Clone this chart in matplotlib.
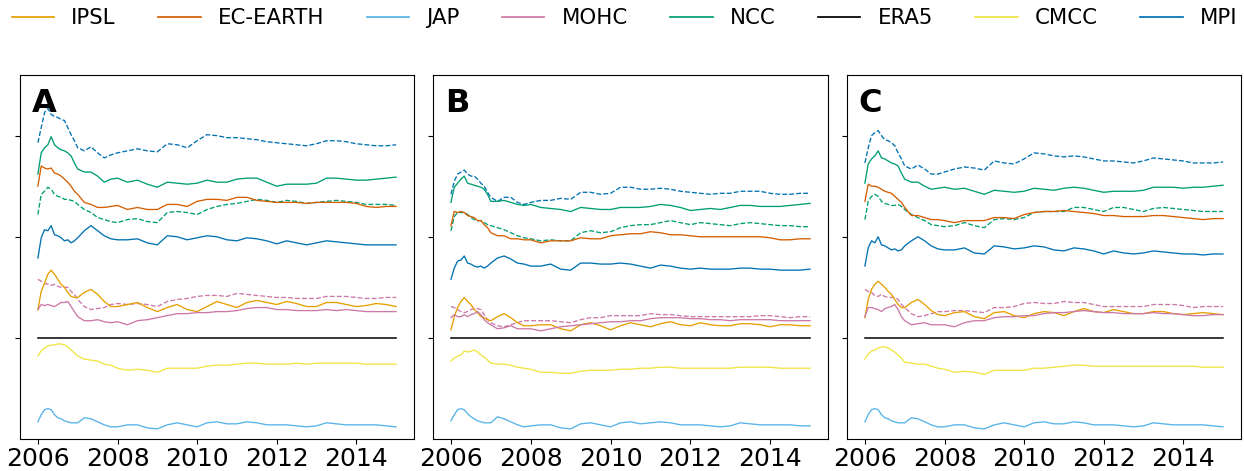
import matplotlib
matplotlib.use("Agg")
import matplotlib.pyplot as plt
from matplotlib.lines import Line2D

years = [2006.0, 2006.083, 2006.167, 2006.25, 2006.333, 2006.417, 2006.5, 2006.583,
         2006.667, 2006.75, 2006.833, 2006.917, 2007.0, 2007.167, 2007.333, 2007.5,
         2007.667, 2007.833, 2008.0, 2008.25, 2008.5, 2008.75, 2009.0, 2009.25,
         2009.5, 2009.75, 2010.0, 2010.25, 2010.5, 2010.75, 2011.0, 2011.25, 2011.5,
         2011.75, 2012.0, 2012.25, 2012.5, 2012.75, 2013.0, 2013.25, 2013.5, 2013.75,
         2014.0, 2014.25, 2014.5, 2014.75, 2015.0]

models = ["IPSL", "EC-EARTH", "JAP", "MOHC", "NCC", "ERA5", "CMCC", "MPI"]
colors = ["#E69F00", "#D55E00", "#56B4E9", "#CC79A7", "#009E73", "#000000", "#F0E442", "#0072B2"]
panel_labels = ["A", "B", "C"]
xtick_years = [2006, 2008, 2010, 2012, 2014]
era5_level = 0.0

# ---------------- Panel A ----------------
A_MPI_d = [1.93, 2.08, 2.23, 2.27, 2.21, 2.19, 2.18, 2.16, 2.15, 2.08, 2.01, 1.95, 1.88, 1.85, 1.89, 1.83, 1.78, 1.81, 1.83, 1.85, 1.87, 1.85, 1.84, 1.92, 1.91, 1.88, 1.95, 2.01, 2.00, 1.98, 1.98, 1.97, 1.96, 1.94, 1.93, 1.92, 1.91, 1.90, 1.92, 1.95, 1.95, 1.94, 1.92, 1.91, 1.90, 1.90, 1.91]
A_NCC = [1.62, 1.83, 1.88, 1.91, 1.99, 1.91, 1.88, 1.86, 1.85, 1.83, 1.80, 1.73, 1.67, 1.64, 1.64, 1.60, 1.54, 1.57, 1.58, 1.54, 1.56, 1.52, 1.49, 1.54, 1.53, 1.52, 1.53, 1.56, 1.54, 1.54, 1.57, 1.58, 1.58, 1.54, 1.50, 1.52, 1.52, 1.52, 1.53, 1.58, 1.58, 1.57, 1.56, 1.56, 1.57, 1.58, 1.59]
A_EC = [1.50, 1.70, 1.68, 1.67, 1.68, 1.63, 1.62, 1.60, 1.57, 1.54, 1.50, 1.45, 1.42, 1.34, 1.32, 1.29, 1.29, 1.30, 1.31, 1.27, 1.29, 1.27, 1.27, 1.32, 1.32, 1.30, 1.35, 1.37, 1.37, 1.36, 1.39, 1.39, 1.36, 1.35, 1.34, 1.34, 1.34, 1.33, 1.34, 1.34, 1.34, 1.34, 1.33, 1.30, 1.29, 1.30, 1.30]
A_NCC_d = [1.22, 1.42, 1.45, 1.49, 1.47, 1.42, 1.40, 1.39, 1.37, 1.37, 1.36, 1.35, 1.32, 1.27, 1.24, 1.19, 1.17, 1.15, 1.14, 1.17, 1.18, 1.15, 1.14, 1.24, 1.25, 1.24, 1.22, 1.27, 1.30, 1.32, 1.33, 1.35, 1.37, 1.36, 1.34, 1.36, 1.35, 1.33, 1.34, 1.35, 1.36, 1.35, 1.34, 1.32, 1.32, 1.32, 1.31]
A_MPI = [0.79, 0.99, 1.07, 1.06, 1.11, 1.02, 1.01, 0.99, 0.96, 0.97, 0.94, 0.96, 0.99, 1.06, 1.11, 1.06, 1.01, 0.98, 0.97, 0.97, 0.98, 0.94, 0.92, 1.01, 1.00, 0.97, 0.99, 1.01, 1.00, 0.97, 0.96, 0.99, 0.98, 0.96, 0.93, 0.96, 0.94, 0.92, 0.94, 0.96, 0.95, 0.94, 0.93, 0.92, 0.92, 0.92, 0.92]
A_IPSL = [0.28, 0.46, 0.54, 0.63, 0.67, 0.63, 0.58, 0.53, 0.50, 0.45, 0.41, 0.40, 0.40, 0.45, 0.48, 0.43, 0.36, 0.31, 0.31, 0.33, 0.35, 0.30, 0.26, 0.30, 0.33, 0.28, 0.26, 0.31, 0.36, 0.33, 0.30, 0.35, 0.37, 0.35, 0.33, 0.36, 0.34, 0.31, 0.31, 0.35, 0.35, 0.33, 0.31, 0.32, 0.34, 0.33, 0.31]
A_MOHC_d = [0.58, 0.56, 0.54, 0.53, 0.52, 0.53, 0.51, 0.50, 0.50, 0.50, 0.46, 0.43, 0.38, 0.31, 0.28, 0.29, 0.30, 0.33, 0.34, 0.33, 0.34, 0.33, 0.31, 0.36, 0.38, 0.39, 0.41, 0.42, 0.42, 0.41, 0.44, 0.43, 0.42, 0.41, 0.40, 0.40, 0.39, 0.39, 0.39, 0.41, 0.41, 0.41, 0.40, 0.39, 0.39, 0.40, 0.40]
A_MOHC = [0.28, 0.33, 0.32, 0.33, 0.32, 0.31, 0.33, 0.35, 0.35, 0.36, 0.31, 0.26, 0.21, 0.17, 0.17, 0.18, 0.16, 0.15, 0.16, 0.13, 0.17, 0.18, 0.20, 0.22, 0.24, 0.24, 0.25, 0.25, 0.26, 0.26, 0.27, 0.29, 0.30, 0.30, 0.28, 0.28, 0.27, 0.27, 0.27, 0.28, 0.27, 0.28, 0.27, 0.26, 0.26, 0.26, 0.26]
A_CMCC = [-0.18, -0.13, -0.10, -0.08, -0.07, -0.07, -0.06, -0.06, -0.07, -0.09, -0.12, -0.15, -0.18, -0.21, -0.22, -0.23, -0.26, -0.27, -0.30, -0.32, -0.31, -0.32, -0.34, -0.30, -0.30, -0.30, -0.30, -0.28, -0.27, -0.27, -0.26, -0.25, -0.25, -0.26, -0.26, -0.26, -0.25, -0.26, -0.25, -0.25, -0.25, -0.25, -0.25, -0.26, -0.26, -0.26, -0.26]
A_JAP = [-0.83, -0.76, -0.71, -0.70, -0.71, -0.76, -0.79, -0.80, -0.82, -0.83, -0.84, -0.84, -0.84, -0.79, -0.80, -0.83, -0.86, -0.88, -0.88, -0.86, -0.86, -0.89, -0.90, -0.86, -0.84, -0.86, -0.88, -0.84, -0.83, -0.85, -0.85, -0.83, -0.84, -0.86, -0.86, -0.86, -0.87, -0.88, -0.87, -0.84, -0.85, -0.86, -0.86, -0.86, -0.86, -0.87, -0.88]

# ---------------- Panel B ----------------
B_MPI_d = [1.42, 1.55, 1.62, 1.64, 1.66, 1.62, 1.60, 1.60, 1.57, 1.53, 1.50, 1.44, 1.39, 1.35, 1.39, 1.39, 1.34, 1.32, 1.34, 1.36, 1.36, 1.38, 1.37, 1.44, 1.44, 1.42, 1.43, 1.49, 1.49, 1.47, 1.47, 1.48, 1.47, 1.45, 1.44, 1.43, 1.42, 1.43, 1.43, 1.45, 1.45, 1.45, 1.43, 1.42, 1.42, 1.43, 1.43]
B_NCC = [1.34, 1.49, 1.53, 1.57, 1.60, 1.53, 1.52, 1.51, 1.50, 1.49, 1.47, 1.42, 1.35, 1.35, 1.36, 1.34, 1.32, 1.31, 1.32, 1.29, 1.28, 1.27, 1.25, 1.29, 1.28, 1.27, 1.27, 1.29, 1.29, 1.29, 1.30, 1.32, 1.31, 1.29, 1.26, 1.27, 1.28, 1.27, 1.29, 1.31, 1.31, 1.30, 1.30, 1.30, 1.31, 1.32, 1.33]
B_EC = [1.11, 1.25, 1.24, 1.25, 1.24, 1.21, 1.20, 1.19, 1.16, 1.16, 1.12, 1.09, 1.04, 1.01, 1.01, 0.98, 0.98, 0.97, 0.97, 0.94, 0.96, 0.96, 0.96, 0.99, 0.98, 0.98, 1.01, 1.02, 1.03, 1.03, 1.05, 1.04, 1.02, 1.02, 1.01, 1.00, 1.00, 1.00, 1.00, 1.00, 1.00, 1.00, 0.99, 0.97, 0.97, 0.98, 0.98]
B_NCC_d = [1.06, 1.20, 1.24, 1.24, 1.24, 1.22, 1.19, 1.17, 1.16, 1.16, 1.14, 1.12, 1.11, 1.09, 1.07, 1.04, 1.01, 0.99, 0.98, 0.96, 0.97, 0.96, 0.96, 1.04, 1.06, 1.04, 1.05, 1.09, 1.11, 1.12, 1.12, 1.14, 1.16, 1.14, 1.12, 1.14, 1.13, 1.12, 1.11, 1.13, 1.14, 1.13, 1.12, 1.11, 1.11, 1.10, 1.10]
B_MPI = [0.58, 0.69, 0.76, 0.77, 0.81, 0.74, 0.73, 0.71, 0.70, 0.71, 0.69, 0.71, 0.74, 0.79, 0.81, 0.78, 0.74, 0.73, 0.71, 0.71, 0.73, 0.68, 0.67, 0.74, 0.74, 0.73, 0.73, 0.74, 0.73, 0.71, 0.69, 0.72, 0.71, 0.69, 0.68, 0.69, 0.68, 0.68, 0.68, 0.69, 0.69, 0.68, 0.68, 0.67, 0.67, 0.67, 0.68]
B_IPSL = [0.08, 0.21, 0.30, 0.36, 0.40, 0.36, 0.33, 0.28, 0.25, 0.21, 0.20, 0.18, 0.17, 0.21, 0.24, 0.20, 0.15, 0.12, 0.12, 0.13, 0.13, 0.09, 0.07, 0.13, 0.15, 0.12, 0.08, 0.12, 0.15, 0.13, 0.11, 0.14, 0.16, 0.13, 0.12, 0.15, 0.13, 0.12, 0.12, 0.14, 0.14, 0.13, 0.11, 0.13, 0.13, 0.12, 0.12]
B_MOHC_d = [0.31, 0.30, 0.28, 0.26, 0.25, 0.26, 0.28, 0.29, 0.29, 0.28, 0.23, 0.18, 0.15, 0.12, 0.11, 0.13, 0.15, 0.17, 0.17, 0.17, 0.17, 0.16, 0.15, 0.18, 0.20, 0.20, 0.22, 0.22, 0.22, 0.22, 0.24, 0.23, 0.23, 0.22, 0.21, 0.21, 0.21, 0.21, 0.21, 0.21, 0.21, 0.22, 0.22, 0.21, 0.20, 0.21, 0.21]
B_MOHC = [0.20, 0.23, 0.21, 0.21, 0.23, 0.21, 0.23, 0.24, 0.26, 0.23, 0.18, 0.15, 0.13, 0.09, 0.10, 0.12, 0.09, 0.09, 0.09, 0.07, 0.09, 0.11, 0.12, 0.13, 0.14, 0.15, 0.16, 0.16, 0.17, 0.17, 0.19, 0.20, 0.20, 0.20, 0.19, 0.19, 0.18, 0.18, 0.17, 0.18, 0.18, 0.18, 0.18, 0.17, 0.17, 0.17, 0.17]
B_CMCC = [-0.23, -0.20, -0.18, -0.17, -0.13, -0.14, -0.13, -0.12, -0.14, -0.17, -0.19, -0.22, -0.25, -0.26, -0.26, -0.27, -0.29, -0.30, -0.31, -0.34, -0.34, -0.35, -0.35, -0.33, -0.32, -0.32, -0.32, -0.31, -0.31, -0.30, -0.30, -0.29, -0.29, -0.30, -0.30, -0.30, -0.30, -0.30, -0.30, -0.29, -0.29, -0.29, -0.29, -0.30, -0.30, -0.30, -0.30]
B_JAP = [-0.82, -0.76, -0.71, -0.70, -0.71, -0.75, -0.78, -0.80, -0.82, -0.83, -0.84, -0.84, -0.84, -0.78, -0.80, -0.83, -0.86, -0.88, -0.87, -0.86, -0.86, -0.89, -0.90, -0.85, -0.84, -0.86, -0.88, -0.84, -0.83, -0.85, -0.84, -0.83, -0.84, -0.86, -0.86, -0.86, -0.87, -0.88, -0.87, -0.84, -0.85, -0.86, -0.86, -0.86, -0.86, -0.87, -0.87]

# ---------------- Panel C ----------------
C_MPI_d = [1.73, 1.88, 2.00, 2.03, 2.05, 2.00, 1.96, 1.95, 1.93, 1.90, 1.83, 1.77, 1.70, 1.67, 1.71, 1.67, 1.62, 1.62, 1.64, 1.67, 1.69, 1.68, 1.66, 1.75, 1.73, 1.72, 1.77, 1.83, 1.82, 1.80, 1.79, 1.80, 1.79, 1.77, 1.75, 1.75, 1.74, 1.73, 1.75, 1.78, 1.77, 1.76, 1.75, 1.73, 1.73, 1.73, 1.74]
C_NCC = [1.53, 1.72, 1.77, 1.80, 1.85, 1.78, 1.77, 1.75, 1.73, 1.72, 1.70, 1.63, 1.57, 1.54, 1.54, 1.50, 1.47, 1.48, 1.49, 1.47, 1.48, 1.45, 1.42, 1.46, 1.45, 1.44, 1.45, 1.48, 1.47, 1.46, 1.48, 1.49, 1.48, 1.46, 1.44, 1.45, 1.45, 1.45, 1.46, 1.49, 1.49, 1.49, 1.48, 1.49, 1.49, 1.50, 1.51]
C_EC = [1.35, 1.52, 1.50, 1.50, 1.49, 1.47, 1.45, 1.44, 1.43, 1.40, 1.37, 1.34, 1.29, 1.21, 1.21, 1.19, 1.17, 1.17, 1.16, 1.14, 1.16, 1.16, 1.16, 1.19, 1.19, 1.18, 1.22, 1.24, 1.25, 1.25, 1.26, 1.25, 1.24, 1.23, 1.21, 1.21, 1.20, 1.20, 1.20, 1.21, 1.21, 1.20, 1.19, 1.18, 1.17, 1.18, 1.18]
C_NCC_d = [1.17, 1.35, 1.40, 1.42, 1.40, 1.35, 1.33, 1.32, 1.31, 1.31, 1.32, 1.30, 1.27, 1.22, 1.19, 1.16, 1.12, 1.11, 1.10, 1.11, 1.14, 1.11, 1.09, 1.17, 1.18, 1.17, 1.19, 1.24, 1.25, 1.25, 1.25, 1.29, 1.29, 1.27, 1.25, 1.29, 1.29, 1.27, 1.25, 1.28, 1.29, 1.28, 1.27, 1.26, 1.25, 1.25, 1.25]
C_MPI = [0.71, 0.89, 0.96, 0.94, 1.00, 0.92, 0.91, 0.89, 0.87, 0.88, 0.86, 0.87, 0.91, 0.96, 1.00, 0.96, 0.91, 0.88, 0.87, 0.87, 0.89, 0.84, 0.83, 0.91, 0.90, 0.88, 0.89, 0.91, 0.90, 0.87, 0.86, 0.89, 0.88, 0.86, 0.83, 0.86, 0.84, 0.83, 0.84, 0.86, 0.85, 0.84, 0.83, 0.83, 0.82, 0.83, 0.83]
C_IPSL = [0.20, 0.38, 0.48, 0.53, 0.56, 0.53, 0.50, 0.46, 0.43, 0.38, 0.33, 0.30, 0.30, 0.35, 0.38, 0.33, 0.27, 0.23, 0.22, 0.25, 0.26, 0.21, 0.19, 0.25, 0.26, 0.22, 0.20, 0.24, 0.26, 0.25, 0.22, 0.26, 0.29, 0.26, 0.25, 0.28, 0.26, 0.24, 0.24, 0.26, 0.26, 0.24, 0.23, 0.24, 0.25, 0.24, 0.23]
C_MOHC_d = [0.48, 0.46, 0.45, 0.42, 0.41, 0.43, 0.41, 0.40, 0.40, 0.40, 0.38, 0.33, 0.30, 0.24, 0.21, 0.22, 0.24, 0.26, 0.26, 0.27, 0.27, 0.26, 0.25, 0.30, 0.30, 0.31, 0.34, 0.35, 0.34, 0.34, 0.36, 0.35, 0.35, 0.33, 0.31, 0.31, 0.31, 0.31, 0.31, 0.33, 0.33, 0.33, 0.32, 0.30, 0.31, 0.31, 0.31]
C_MOHC = [0.21, 0.30, 0.30, 0.29, 0.28, 0.26, 0.29, 0.30, 0.31, 0.33, 0.28, 0.21, 0.17, 0.13, 0.14, 0.15, 0.13, 0.13, 0.13, 0.11, 0.15, 0.17, 0.17, 0.20, 0.21, 0.21, 0.22, 0.22, 0.24, 0.25, 0.25, 0.26, 0.27, 0.26, 0.25, 0.25, 0.24, 0.24, 0.24, 0.25, 0.24, 0.24, 0.23, 0.22, 0.22, 0.23, 0.23]
C_CMCC = [-0.21, -0.16, -0.13, -0.12, -0.10, -0.09, -0.09, -0.10, -0.12, -0.14, -0.17, -0.20, -0.24, -0.25, -0.26, -0.26, -0.28, -0.30, -0.31, -0.34, -0.33, -0.34, -0.36, -0.32, -0.32, -0.32, -0.32, -0.30, -0.30, -0.29, -0.28, -0.27, -0.27, -0.28, -0.28, -0.28, -0.28, -0.28, -0.28, -0.28, -0.28, -0.28, -0.28, -0.28, -0.29, -0.29, -0.29]
C_JAP = [-0.83, -0.76, -0.71, -0.70, -0.71, -0.76, -0.79, -0.80, -0.82, -0.83, -0.84, -0.84, -0.84, -0.79, -0.80, -0.83, -0.86, -0.88, -0.88, -0.86, -0.86, -0.89, -0.90, -0.86, -0.84, -0.86, -0.88, -0.84, -0.83, -0.85, -0.85, -0.83, -0.84, -0.86, -0.86, -0.86, -0.87, -0.88, -0.87, -0.84, -0.85, -0.86, -0.86, -0.86, -0.86, -0.87, -0.88]

panels = [
    {"solid": {"IPSL": A_IPSL, "EC-EARTH": A_EC, "JAP": A_JAP, "MOHC": A_MOHC, "NCC": A_NCC, "CMCC": A_CMCC, "MPI": A_MPI},
     "dashed": {"MOHC": A_MOHC_d, "NCC": A_NCC_d, "MPI": A_MPI_d}},
    {"solid": {"IPSL": B_IPSL, "EC-EARTH": B_EC, "JAP": B_JAP, "MOHC": B_MOHC, "NCC": B_NCC, "CMCC": B_CMCC, "MPI": B_MPI},
     "dashed": {"MOHC": B_MOHC_d, "NCC": B_NCC_d, "MPI": B_MPI_d}},
    {"solid": {"IPSL": C_IPSL, "EC-EARTH": C_EC, "JAP": C_JAP, "MOHC": C_MOHC, "NCC": C_NCC, "CMCC": C_CMCC, "MPI": C_MPI},
     "dashed": {"MOHC": C_MOHC_d, "NCC": C_NCC_d, "MPI": C_MPI_d}},
]

color_of = dict(zip(models, colors))

fig = plt.figure(figsize=(12.44, 4.71), dpi=100)
W, H = 1244.0, 471.0
lefts = [20, 433, 847]
widths = [394, 395, 394]
ax_bottom, ax_height = 32, 364

for i, (panel, lab) in enumerate(zip(panels, panel_labels)):
    ax = fig.add_axes([lefts[i] / W, ax_bottom / H, widths[i] / W, ax_height / H])
    for name, vals in panel["dashed"].items():
        ax.plot(years, vals, color=color_of[name], lw=0.95, ls="--")
    for name, vals in panel["solid"].items():
        ax.plot(years, vals, color=color_of[name], lw=0.95, ls="-")
    ax.plot([years[0], years[-1]], [era5_level, era5_level], color=color_of["ERA5"], lw=1.1)
    ax.set_xlim(2005.55, 2015.45)
    ax.set_ylim(-1.0, 2.6)
    ax.set_xticks(xtick_years)
    ax.set_xticklabels([str(y) for y in xtick_years], fontsize=18)
    ax.set_yticks([0, 1, 2])
    ax.set_yticklabels([])
    ax.tick_params(axis="x", pad=2)
    ax.text(0.030, 0.898, lab, transform=ax.transAxes, fontsize=23,
            fontweight="bold", va="baseline", ha="left")

handles = [Line2D([0], [0], color=c, lw=1.25) for c in colors]
fig.legend(handles, models, loc="upper center", bbox_to_anchor=(0.502, 1.0),
           ncol=8, frameon=False, fontsize=15.3, handlelength=2.0,
           handletextpad=0.8, columnspacing=2.0, borderaxespad=0.0, borderpad=0.4)

fig.savefig("out.png", dpi=100)
